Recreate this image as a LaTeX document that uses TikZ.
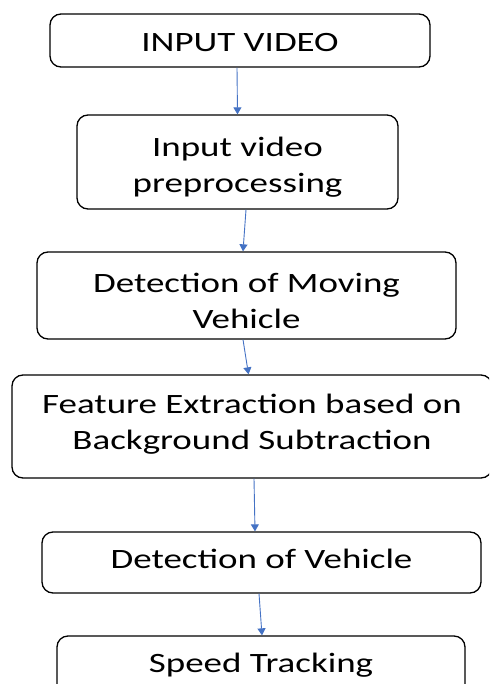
\documentclass[tikz,border=0pt]{standalone}
\usepackage{fontspec}
\setmainfont[FakeStretch=1.32]{Carlito}
\usetikzlibrary{arrows.meta}
\begin{document}
\begin{tikzpicture}[x=1pt,y=-1pt,
  box/.style={draw=black,line width=1.3pt,rounded corners=11pt,inner sep=0pt,align=center,
    text depth=0pt,font=\fontsize{28}{36}\selectfont},
  flow/.style={draw={rgb,255:red,68;green,114;blue,196},line width=0.9pt,
    -{Triangle[length=7pt,width=8pt]}}]
\useasboundingbox (0,0) rectangle (489,684);
\clip (0,0) rectangle (489,684);
\node[box,minimum width=380pt,minimum height=53pt,text height=22.4pt] (b1) at (240,40.5) {INPUT VIDEO};
\node[box,minimum width=321pt,minimum height=94pt,text height=62pt] (b2) at (237.5,162) {Input video\\preprocessing};
\node[box,minimum width=419pt,minimum height=87pt,text height=65pt] (b3) at (246.5,295.5) {Detection of Moving\\Vehicle};
\node[box,minimum width=480pt,minimum height=103pt,text height=45pt] (b4) at (252,426.5) {Feature Extraction based on\\Background Subtraction};
\node[box,minimum width=439pt,minimum height=61pt,text height=11.6pt] (b5) at (261.5,562.5) {Detection of Vehicle};
\node[box,minimum width=408pt,minimum height=60pt,text height=12pt] (b6) at (261,666) {Speed Tracking};
\draw[flow] ([xshift=-3pt]b1.south) -- (b2.north);
\draw[flow] ([xshift=8.5pt]b2.south) -- ([xshift=-3.5pt]b3.north);
\draw[flow] ([xshift=-3.5pt]b3.south) -- ([xshift=-3.5pt]b4.north);
\draw[flow] ([xshift=2pt]b4.south) -- ([xshift=-6.5pt]b5.north);
\draw[flow] ([xshift=-2.5pt]b5.south) -- ([xshift=1pt]b6.north);
\end{tikzpicture}
\end{document}
